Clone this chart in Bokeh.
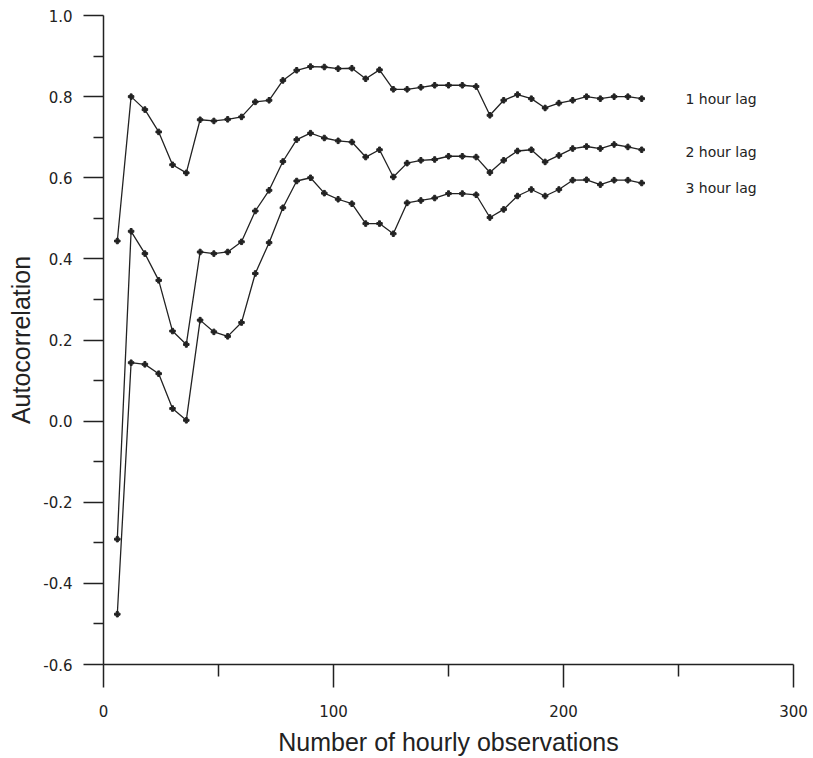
from bokeh.plotting import figure
from bokeh.models import Range1d, FixedTicker, PrintfTickFormatter, Label
from bokeh.embed import file_html
from bokeh.resources import INLINE

# Data: number of hourly observations (x) and autocorrelation for three lags
observations = [6, 12, 18, 24, 30, 36, 42, 48, 54, 60, 66, 72, 78, 84, 90, 96, 102,
                108, 114, 120, 126, 132, 138, 144, 150, 156, 162, 168, 174, 180, 186,
                192, 198, 204, 210, 216, 222, 228, 234]

lag1 = [0.444, 0.800, 0.768, 0.713, 0.632, 0.612, 0.743, 0.740, 0.744, 0.750, 0.787,
        0.791, 0.840, 0.865, 0.874, 0.873, 0.869, 0.870, 0.844, 0.866, 0.818, 0.818,
        0.823, 0.828, 0.828, 0.828, 0.825, 0.754, 0.791, 0.805, 0.795, 0.772, 0.784,
        0.791, 0.800, 0.795, 0.800, 0.800, 0.795]

lag2 = [-0.291, 0.468, 0.413, 0.347, 0.222, 0.189, 0.417, 0.413, 0.417, 0.442, 0.518,
        0.569, 0.640, 0.694, 0.710, 0.698, 0.691, 0.688, 0.651, 0.669, 0.602, 0.636,
        0.643, 0.645, 0.653, 0.653, 0.651, 0.613, 0.643, 0.666, 0.669, 0.639, 0.655,
        0.672, 0.677, 0.672, 0.682, 0.676, 0.669]

lag3 = [-0.476, 0.144, 0.140, 0.117, 0.031, 0.002, 0.249, 0.220, 0.209, 0.243, 0.364,
        0.440, 0.526, 0.592, 0.600, 0.562, 0.547, 0.536, 0.487, 0.487, 0.462, 0.538,
        0.544, 0.550, 0.561, 0.561, 0.558, 0.502, 0.522, 0.555, 0.571, 0.555, 0.571,
        0.594, 0.595, 0.583, 0.594, 0.594, 0.587]

series_labels = ["1 hour lag", "2 hour lag", "3 hour lag"]
label_x = 253
label_y = [0.793, 0.663, 0.574]

x_major = [0, 100, 200, 300]
x_minor = [50, 150, 250]
y_major = [-0.6, -0.4, -0.2, 0.0, 0.2, 0.4, 0.6, 0.8, 1.0]
y_minor = [-0.5, -0.3, -0.1, 0.1, 0.3, 0.5, 0.7, 0.9]

ink = "#222222"

p = figure(frame_width=690, frame_height=649,
           x_range=Range1d(0, 300), y_range=Range1d(-0.6, 1.0),
           output_backend="svg", toolbar_location=None,
           min_border_left=103, min_border_right=20,
           min_border_top=15, min_border_bottom=94)

p.grid.visible = False
p.outline_line_color = None
p.background_fill_color = "white"
p.border_fill_color = "white"

for ys in (lag1, lag2, lag3):
    p.line(observations, ys, line_color=ink, line_width=1.3)
    p.scatter(observations, ys, marker="plus", size=5.5, color=ink)

for txt, ly in zip(series_labels, label_y):
    p.add_layout(Label(x=label_x, y=ly, text=txt, text_font="DejaVu Sans",
                       text_font_size="14px", text_color=ink,
                       text_baseline="middle", text_align="left"))

# x axis
xa = p.xaxis[0]
xa.ticker = FixedTicker(ticks=x_major, minor_ticks=x_minor)
xa.axis_label = "Number of hourly observations"
xa.axis_label_text_font = "Liberation Sans"
xa.axis_label_text_font_size = "25px"
xa.axis_label_text_font_style = "normal"
xa.axis_label_text_color = ink
xa.axis_label_standoff = 8
xa.major_label_text_font = "DejaVu Sans"
xa.major_label_text_font_size = "15px"
xa.major_label_text_color = ink
xa.major_label_standoff = 17
xa.major_tick_out = 23
xa.major_tick_in = 0
xa.minor_tick_out = 12
xa.minor_tick_in = 0
xa.axis_line_width = 1.5
xa.major_tick_line_width = 1.5
xa.minor_tick_line_width = 1.5
xa.axis_line_color = ink
xa.major_tick_line_color = ink
xa.minor_tick_line_color = ink

# y axis
ya = p.yaxis[0]
ya.ticker = FixedTicker(ticks=y_major, minor_ticks=y_minor)
ya.formatter = PrintfTickFormatter(format="%.1f")
ya.axis_label = "Autocorrelation"
ya.axis_label_text_font = "Liberation Sans"
ya.axis_label_text_font_size = "25px"
ya.axis_label_text_font_style = "normal"
ya.axis_label_text_color = ink
ya.axis_label_standoff = 5
ya.major_label_text_font = "DejaVu Sans"
ya.major_label_text_font_size = "15px"
ya.major_label_text_color = ink
ya.major_label_standoff = 11
ya.major_tick_out = 20
ya.major_tick_in = 0
ya.minor_tick_out = 10
ya.minor_tick_in = 0
ya.axis_line_width = 1.5
ya.major_tick_line_width = 1.5
ya.minor_tick_line_width = 1.5
ya.axis_line_color = ink
ya.major_tick_line_color = ink
ya.minor_tick_line_color = ink

open("out.html", "w").write(file_html(p, INLINE))
